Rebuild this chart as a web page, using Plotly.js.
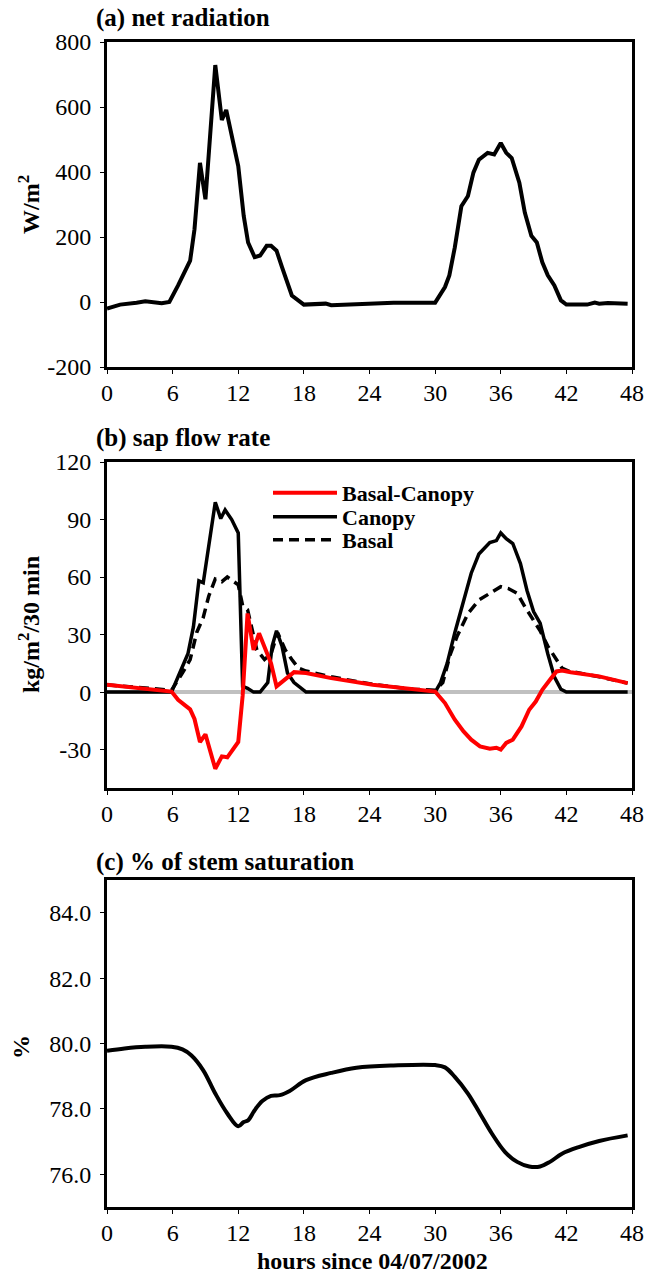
<!DOCTYPE html>
<html><head><meta charset="utf-8">
<script src="https://cdn.plot.ly/plotly-3.0.1.min.js"></script>
<style>body{margin:0;background:#fff}#chart{width:652px;height:1274px}</style>
</head><body><div id="chart"></div>
<script>
// (a) net radiation, W/m2
const radHours = [0,1.2,2.7,3.5,5,5.7,6.5,7.6,8.0,8.5,9.0,9.9,10.5,10.9,12,12.5,12.9,13.5,14,14.6,15,15.5,16,16.4,16.9,18,19,20,20.5,22.4,26.2,30,30.9,31.3,31.8,32.4,33,33.5,34,34.8,35.4,36,36.5,37,37.7,38.2,38.8,39.3,39.8,40.3,40.9,41.5,42,43.9,44.6,45,45.8,47.6];
const radValues = [-20,-8,-2,2,-4,0,51,127,224,428,316,729,560,591,418,265,183,138,143,173,173,158,107,71,20,-8,-5,-5,-10,-8,-2,-2,46,82,168,295,326,398,438,459,454,489,459,443,367,275,204,183,122,82,51,5,-8,-8,-2,-5,-3,-5];

// (b) sap flow rate, kg/m2/30 min
const canopyHours = [0,5.9,6.5,7.4,7.9,8.4,8.8,9.5,9.9,10.4,10.8,11.4,12,12.4,12.85,13.4,14,14.7,15.1,15.5,16,16.5,17.1,18.2,30,30.5,31.1,31.8,32.5,33.3,34,35,35.6,36,36.5,37.1,37.8,38.4,39,39.6,40.3,40.9,41.5,42,47.6];
const canopyValues = [0,0,8,20,34,58,57,83,99,90.5,95,90,83,3,2,0,0,5,24,32,24,10,5,0,0,5,15,31,46,62,72,78,79,83,80,77.5,67,53,42,36,20,8,1.5,0,0];

const basalHours = [0,5.9,6.9,7.6,8.2,8.8,9.3,9.9,10.5,11,12,12.4,12.85,13.2,13.7,14.4,15,15.6,16.3,16.9,17.5,18.2,20.5,24.3,28,30,30.7,31.4,32,33,34,35,36,36.7,37.5,38.2,39,39.6,40.3,41.1,41.6,42.2,45,47.6];
const basalValues = [3.8,1,10,17,31,39,50,59,57.6,60,56,45,43,34,22,17,20,31,22,17,12.5,11,8,4,1.5,1,5,20,29,41,48,51.5,55,54,51.5,44.6,37.6,32,24,17,12.5,11,8,4.7];

const diffHours = [0,5.9,6.5,7.6,8,8.5,9,9.5,9.9,10.5,11,12,12.4,12.85,13.4,13.9,14.4,15,15.5,16.3,17.1,18.2,20.5,24.3,28,30,30.9,31.8,32.6,33.3,34.1,35,35.6,36,36.5,37.1,37.9,38.6,39.2,39.8,40.5,41.1,41.6,42.4,45,47.6];
const diffValues = [3.8,0.3,-4,-9,-14,-26,-22,-32,-40,-33.5,-34,-26,-2,41,22,30.7,24,15,3,6.4,10.4,10,7.3,3.8,1.2,0.3,-5.7,-14.4,-20.5,-24.8,-28.3,-29.5,-29,-30,-26.5,-24.8,-17.9,-9.2,-4.9,1.2,6.4,10.8,11.3,10.4,8.2,4.7];

// (c) % of stem saturation
const satHours = [0,1.6,3.5,5.9,6.9,7.7,8.8,9.9,11,12,12.5,12.9,13.5,14.2,15,15.8,16.7,18.2,20.5,22.8,26.2,30,30.9,31.8,33,34.1,35.2,36.4,37.5,38.6,39.6,40.5,41.6,43.2,45,47.6];
const satValues = [79.78,79.85,79.9,79.9,79.82,79.64,79.18,78.47,77.86,77.47,77.6,77.65,77.96,78.24,78.4,78.42,78.55,78.88,79.1,79.26,79.33,79.34,79.27,78.98,78.47,77.86,77.24,76.68,76.38,76.24,76.24,76.38,76.63,76.84,77.02,77.19];

const xTicks = [0,6,12,18,24,30,36,42,48];
const radTicks = [-200,0,200,400,600,800];
const radTickText = ['-200','0','200','400','600','800'];
const sapTicks = [-30,0,30,60,90,120];
const sapTickText = ['-30','0','30','60','90','120'];
const satTicks = [76,78,80,82,84];
const satTickText = ['76.0','78.0','80.0','82.0','84.0'];
const seriesNames = ['Basal-Canopy','Canopy','Basal'];

const FONT = "Liberation Serif";
const H = 1274;
const dom = (top, bottom) => [1 - bottom / H, 1 - top / H];
const tickFont = {family:FONT, size:24, color:'#000'};

function xa(anchor) {
  return {domain:[0,1], anchor:anchor, range:[0,48], tickvals:xTicks, showline:true, mirror:true,
    linecolor:'#000', linewidth:3, ticks:'outside', ticklen:4, tickcolor:'#000', showgrid:false,
    zeroline:false, tickfont:tickFont, ticklabelstandoff:-2, fixedrange:true};
}
function ya(anchor, domain, range, tickvals, ticktext, extra) {
  return Object.assign({domain:domain, anchor:anchor, range:range, tickvals:tickvals, ticktext:ticktext,
    showline:true, mirror:true, linecolor:'#000', linewidth:3, ticks:'outside', ticklen:4, tickcolor:'#000',
    showgrid:false, zeroline:false, tickfont:tickFont, ticklabelstandoff:4, fixedrange:true}, extra || {});
}

const traces = [
  {x:radHours, y:radValues, xaxis:'x', yaxis:'y', mode:'lines', line:{color:'#000', width:4}, showlegend:false},
  {x:basalHours, y:basalValues, xaxis:'x2', yaxis:'y2', mode:'lines', name:seriesNames[2], legend:'legend3',
    line:{color:'#000', width:3.5, dash:'10px,6px'}},
  {x:canopyHours, y:canopyValues, xaxis:'x2', yaxis:'y2', mode:'lines', name:seriesNames[1], legend:'legend2',
    line:{color:'#000', width:3.5}},
  {x:diffHours, y:diffValues, xaxis:'x2', yaxis:'y2', mode:'lines', name:seriesNames[0], legend:'legend',
    line:{color:'#ff0000', width:4}},
  {x:satHours, y:satValues, xaxis:'x3', yaxis:'y3', mode:'lines', line:{color:'#000', width:4, shape:'spline'}, showlegend:false}
];

const px = v => (v - 107) / 525;
const py = v => 1 - v / H;
const ann = (text, x, y, opts) => Object.assign({text:text, xref:'paper', yref:'paper', x:x, y:y, showarrow:false,
  font:{family:FONT, size:25, color:'#000'}}, opts || {});
const bigFont = {family:FONT, size:24, color:'#000'};
const leg = (ypix) => ({x:px(268), y:py(ypix), xanchor:'left', yanchor:'middle', bgcolor:'rgba(0,0,0,0)',
  font:{family:FONT, size:22, color:'#000', weight:'bold'}, itemwidth:64, tracegroupgap:0});

const layout = {
  width:652, height:1274, margin:{l:107, r:20, t:0, b:0}, paper_bgcolor:'#fff', plot_bgcolor:'#fff',
  font:{family:FONT, color:'#000'},
  xaxis: xa('y'), xaxis2: xa('y2'), xaxis3: xa('y3'),
  yaxis: ya('x', dom(42,367), [-200,800], radTicks, radTickText),
  yaxis2: ya('x2', dom(462,788), [-50,120], sapTicks, sapTickText,
    {zeroline:true, zerolinecolor:'#c0c0c0', zerolinewidth:4}),
  yaxis3: ya('x3', dom(880,1207), [75,85], satTicks, satTickText),
  showlegend:true,
  legend: leg(493), legend2: leg(517), legend3: leg(540),
  annotations:[
    ann('<b>(a) net radiation</b>', px(94), py(18), {xanchor:'left', yanchor:'middle'}),
    ann('<b>(b) sap flow rate</b>', px(94), py(438), {xanchor:'left', yanchor:'middle'}),
    ann('<b>(c) % of stem saturation</b>', px(94), py(862), {xanchor:'left', yanchor:'middle'}),
    ann('<b>W/m<sup>2</sup></b>', px(29), py(205), {textangle:-90, xanchor:'center', yanchor:'middle', font:bigFont}),
    ann('<b>kg/m<sup>2</sup>/30 min</b>', px(29), py(625), {textangle:-90, xanchor:'center', yanchor:'middle', font:bigFont}),
    ann('<b>%</b>', px(21), py(1047), {textangle:-90, xanchor:'center', yanchor:'middle', font:bigFont}),
    ann('<b>hours since 04/07/2002</b>', px(372), py(1261), {xanchor:'center', yanchor:'middle', font:{family:FONT,size:24,color:'#000'}})
  ]
};

Plotly.newPlot('chart', traces, layout, {staticPlot:true, displayModeBar:false});
</script></body></html>
